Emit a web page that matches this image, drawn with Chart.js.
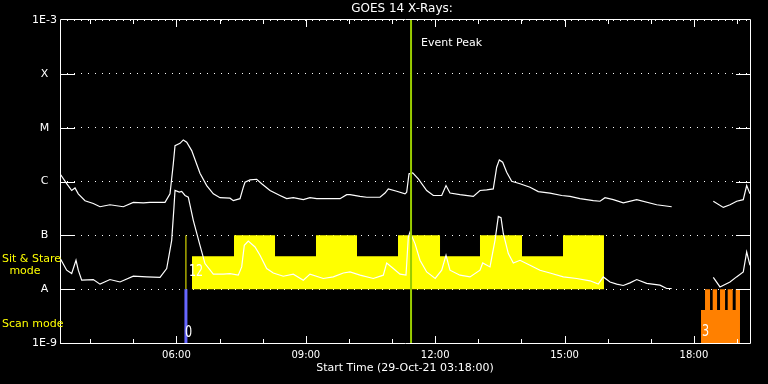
<!DOCTYPE html>
<html>
<head>
<meta charset="utf-8">
<script src="https://cdn.jsdelivr.net/npm/chart.js@4.4.0/dist/chart.umd.min.js"></script>
<style>
  html, body { margin: 0; padding: 0; background: #000; overflow: hidden; }
  #wrap { width: 768px; height: 384px; }
</style>
</head>
<body>
<div id="wrap"><canvas id="goesChart"></canvas></div>
<script>
// time axis in decimal hours of 29-Oct-21, flux in W/m^2
const startHour = 3.3;
const endHour = 19.3;
const xTickHours = [6, 9, 12, 15, 18];
const minorHours = [4, 5, 6, 7, 8, 9, 10, 11, 12, 13, 14, 15, 16, 17, 18, 19];

const yTickValues = [1e-9, 1e-8, 1e-7, 1e-6, 1e-5, 1e-4, 1e-3];
const yTickLabels = ['1E-9', 'A', 'B', 'C', 'M', 'X', '1E-3'];

// 1-8 A channel (upper curve)
const longTime = [3.30, 3.455, 3.571, 3.648, 3.724, 3.880, 4.072, 4.228, 4.459, 4.768,
  5.000, 5.232, 5.387, 5.735, 5.851, 5.927, 5.967, 6.083, 6.159, 6.238,
  6.354, 6.546, 6.702, 6.855, 7.010, 7.242, 7.319, 7.474, 7.550, 7.590,
  7.706, 7.861, 7.977, 8.170, 8.401, 8.557, 8.710, 8.942, 9.097, 9.253,
  9.793, 9.948, 10.025, 10.257, 10.412, 10.720, 10.836, 10.913, 11.108, 11.300,
  11.339, 11.393, 11.479, 11.609, 11.803, 11.957, 12.151, 12.251, 12.343, 12.575,
  12.884, 13.039, 13.194, 13.347, 13.426, 13.487, 13.565, 13.658, 13.774, 13.967,
  14.199, 14.391, 14.662, 14.934, 15.126, 15.358, 15.667, 15.822, 15.938, 16.130,
  16.362, 16.673, 17.136, 17.484, 17.9, 18.449, 18.681, 18.836, 18.991, 19.144,
  19.223, 19.30];
const longFlux = [1.39e-6, 9.1e-7, 6.8e-7, 7.6e-7, 5.9e-7, 4.4e-7, 3.9e-7, 3.4e-7, 3.7e-7, 3.4e-7,
  4.1e-7, 4.0e-7, 4.1e-7, 4.1e-7, 5.9e-7, 2.13e-6, 4.64e-6, 5.12e-6, 5.92e-6, 5.35e-6,
  3.75e-6, 1.42e-6, 8.4e-7, 5.9e-7, 5.0e-7, 4.9e-7, 4.4e-7, 4.8e-7, 7.8e-7, 9.7e-7,
  1.07e-6, 1.10e-6, 9.1e-7, 6.8e-7, 5.5e-7, 4.8e-7, 5.0e-7, 4.6e-7, 5.0e-7, 4.8e-7,
  4.8e-7, 5.7e-7, 5.7e-7, 5.3e-7, 5.1e-7, 5.1e-7, 6.1e-7, 7.3e-7, 6.6e-7, 5.9e-7,
  6.3e-7, 1.39e-6, 1.45e-6, 1.12e-6, 6.8e-7, 5.5e-7, 5.5e-7, 8.4e-7, 6.1e-7, 5.7e-7,
  5.3e-7, 6.8e-7, 7.0e-7, 7.3e-7, 1.84e-6, 2.52e-6, 2.28e-6, 1.49e-6, 1.01e-6, 9.1e-7,
  7.8e-7, 6.5e-7, 6.1e-7, 5.5e-7, 5.3e-7, 4.8e-7, 4.4e-7, 4.3e-7, 5.0e-7, 4.6e-7,
  4.0e-7, 4.6e-7, 3.7e-7, 3.4e-7, null, 4.3e-7, 3.3e-7, 3.7e-7, 4.3e-7, 4.6e-7,
  8.4e-7, 5.9e-7];

// 0.5-4 A channel (lower curve)
const shortTime = [3.30, 3.455, 3.571, 3.671, 3.724, 3.803, 4.072, 4.228, 4.459, 4.691,
  5.000, 5.310, 5.619, 5.774, 5.890, 5.943, 5.967, 6.066, 6.122, 6.199,
  6.275, 6.391, 6.546, 6.662, 6.855, 7.087, 7.242, 7.434, 7.513, 7.574,
  7.666, 7.822, 7.938, 8.093, 8.246, 8.478, 8.710, 8.942, 9.097, 9.406,
  9.638, 9.870, 10.025, 10.257, 10.565, 10.797, 10.876, 11.029, 11.184, 11.323,
  11.377, 11.416, 11.532, 11.648, 11.803, 12.0, 12.151, 12.251, 12.343, 12.575,
  12.807, 13.039, 13.102, 13.271, 13.387, 13.464, 13.526, 13.580, 13.696, 13.812,
  13.967, 14.199, 14.430, 14.662, 14.971, 15.281, 15.590, 15.782, 15.898, 16.054,
  16.209, 16.362, 16.517, 16.673, 16.904, 17.212, 17.368, 17.484, 17.9, 18.449,
  18.604, 18.836, 18.988, 19.144, 19.223, 19.30];
const shortFlux = [3.8e-8, 2.25e-8, 1.95e-8, 3.44e-8, 2.25e-8, 1.47e-8, 1.51e-8, 1.24e-8, 1.51e-8, 1.36e-8,
  1.74e-8, 1.69e-8, 1.65e-8, 2.42e-8, 8.07e-8, 3.34e-7, 6.81e-7, 6.34e-7, 6.53e-7, 5.51e-7,
  5.12e-7, 1.90e-7, 6.53e-8, 2.99e-8, 1.90e-8, 1.90e-8, 1.95e-8, 1.82e-8, 2.59e-8, 6.53e-8,
  7.84e-8, 6.07e-8, 4.26e-8, 2.42e-8, 2.00e-8, 1.74e-8, 1.90e-8, 1.47e-8, 1.90e-8, 1.58e-8,
  1.69e-8, 2.00e-8, 2.09e-8, 1.82e-8, 1.58e-8, 1.82e-8, 3.07e-8, 2.42e-8, 1.90e-8, 1.82e-8,
  9.3e-8, 1.15e-7, 7.02e-8, 3.44e-8, 2.09e-8, 1.58e-8, 2.25e-8, 4.26e-8, 2.25e-8, 1.82e-8,
  1.69e-8, 2.25e-8, 3.07e-8, 2.59e-8, 8.07e-8, 2.25e-7, 2.13e-7, 1.07e-7, 4.58e-8, 3.07e-8,
  3.44e-8, 2.78e-8, 2.25e-8, 2.00e-8, 1.69e-8, 1.58e-8, 1.43e-8, 1.24e-8, 1.69e-8, 1.36e-8,
  1.24e-8, 1.17e-8, 1.31e-8, 1.51e-8, 1.28e-8, 1.19e-8, 1.03e-8, 1.03e-8, null, 1.65e-8,
  1.10e-8, 1.36e-8, 1.69e-8, 2.09e-8, 4.91e-8, 2.78e-8];

// sit & stare mode blocks (level holds until next edge)
const sitEdges = [6.361, 7.335, 8.286, 9.236, 10.187, 11.138, 12.112, 13.039, 14.013, 14.964, 15.914];
const sitLevels = [4.1e-8, 1e-7, 4.1e-8, 1e-7, 4.1e-8, 1e-7, 4.1e-8, 1e-7, 4.1e-8, 1e-7, 1e-8];

// scan mode blocks
const scanEdges = [18.164, 18.257, 18.373, 18.435, 18.536, 18.605, 18.722, 18.783, 18.899, 18.968, 19.068];
const scanLevels = [4.1e-9, 1e-8, 4.1e-9, 1e-8, 4.1e-9, 1e-8, 4.1e-9, 1e-8, 4.1e-9, 1e-8, 1e-9];

const markerHour = 6.22;
const peakHour = 11.44;

const FONT = '"DejaVu Sans"';

function pts(t, v) {
    return t.map((h, i) => ({ x: h, y: v[i] }));
}

function narrowText(ctx, text, px, py, size, sx) {
    ctx.save();
    ctx.translate(px, py);
    ctx.scale(sx, 1);
    ctx.font = size + 'px ' + FONT;
    ctx.fillText(text, 0, 0);
    ctx.restore();
}

const goesDecor = {
    id: 'goesDecor',
    afterDraw(chart) {
        const ctx = chart.ctx;
        const a = chart.chartArea;
        const x = chart.scales.x;
        const y = chart.scales.y;
        const L = Math.round(a.left), R = Math.round(a.right);
        const T = Math.round(a.top), B = Math.round(a.bottom);
        ctx.save();
        ctx.strokeStyle = '#fff';
        ctx.lineWidth = 1;
        ctx.beginPath();
        // frame
        ctx.rect(L + 0.5, T - 0.5, R - L, B - T + 1);
        // solid stubs at flare levels
        for (let i = 1; i < yTickValues.length - 1; i++) {
            let py = Math.round(y.getPixelForValue(yTickValues[i])) + 0.5;
            ctx.moveTo(L, py); ctx.lineTo(L + 15, py);
            ctx.moveTo(R - 14, py); ctx.lineTo(R, py);
        }
        // hourly ticks, inward
        minorHours.forEach(h => {
            let px = Math.round(x.getPixelForValue(h)) + 0.5;
            let len = (h % 3 === 0) ? 7 : 4;
            ctx.moveTo(px, B); ctx.lineTo(px, B - len);
            ctx.moveTo(px, T); ctx.lineTo(px, T + len);
        });
        ctx.stroke();

        ctx.fillStyle = '#fff';
        ctx.textBaseline = 'middle';
        ctx.textAlign = 'center';
        ctx.font = '12px ' + FONT;
        ctx.fillText('GOES 14 X-Rays:', (L + R) / 2 - 3, 9);
        ctx.font = '11px ' + FONT;
        ctx.fillText('Start Time (29-Oct-21 03:18:00)', (L + R) / 2, 368);

        ctx.textAlign = 'left';
        ctx.fillText('Event Peak', x.getPixelForValue(peakHour) + 10, T + 23);

        ctx.fillStyle = '#ffff00';
        ctx.fillText('Sit & Stare', 2, 259);
        ctx.textAlign = 'center';
        ctx.fillText('mode', 25, 271);
        ctx.textAlign = 'left';
        ctx.fillText('Scan mode', 2, 324);

        ctx.fillStyle = '#fff';
        let mx = x.getPixelForValue(markerHour);
        let aPx = y.getPixelForValue(1e-8);
        narrowText(ctx, '12', mx + 3, aPx - 17, 16, 0.7);
        narrowText(ctx, '0', mx - 1, B - 10, 16, 0.7);
        narrowText(ctx, '3', x.getPixelForValue(scanEdges[0]) + 1, B - 11, 16, 0.7);
        ctx.restore();
    }
};

Chart.defaults.color = '#fff';
Chart.defaults.font.family = FONT;

new Chart(document.getElementById('goesChart'), {
    type: 'line',
    data: {
        datasets: [
            {
                data: [{ x: peakHour, y: 1e-9 }, { x: peakHour, y: 1e-3 }],
                borderColor: '#99cc00', borderWidth: 2, order: 0
            },
            {
                data: [{ x: markerHour, y: 1e-8 }, { x: markerHour, y: 1e-7 }],
                borderColor: '#ffff00', borderWidth: 1, order: 1
            },
            {
                data: [{ x: markerHour, y: 1e-9 }, { x: markerHour, y: 1e-8 }],
                borderColor: '#6666ff', borderWidth: 3, order: 1
            },
            {
                data: pts(longTime, longFlux),
                borderColor: '#ffffff', borderWidth: 1.2, order: 2
            },
            {
                data: pts(shortTime, shortFlux),
                borderColor: '#ffffff', borderWidth: 1.2, order: 2
            },
            {
                data: pts(sitEdges, sitLevels),
                stepped: 'before', borderWidth: 0, borderColor: '#ffff00',
                backgroundColor: '#ffff00', fill: { value: 1e-8 }, order: 3
            },
            {
                data: pts(scanEdges, scanLevels),
                stepped: 'before', borderWidth: 0, borderColor: '#ff8000',
                backgroundColor: '#ff8000', fill: { value: 1e-9 }, order: 3
            }
        ]
    },
    options: {
        responsive: true,
        maintainAspectRatio: false,
        animation: false,
        spanGaps: false,
        layout: { padding: { top: 20, right: 18, left: 0, bottom: 0 } },
        elements: { point: { radius: 0 }, line: { tension: 0 } },
        plugins: {
            legend: { display: false },
            tooltip: { enabled: false },
            title: { display: false }
        },
        scales: {
            x: {
                type: 'linear',
                min: startHour,
                max: endHour,
                grid: { display: false, drawTicks: false },
                border: { display: false },
                afterFit: (s) => { s.height = 41; },
                afterBuildTicks: (s) => { s.ticks = xTickHours.map(v => ({ value: v })); },
                ticks: {
                    autoSkip: false,
                    maxRotation: 0,
                    padding: 6,
                    font: { size: 10 },
                    callback: (v) => String(v).padStart(2, '0') + ':00'
                }
            },
            y: {
                type: 'logarithmic',
                min: 1e-9,
                max: 1e-3,
                grid: { color: '#ffffff', lineWidth: 1, drawTicks: false },
                border: { display: false, dash: [1, 6] },
                afterFit: (s) => { s.width = 60; },
                afterBuildTicks: (s) => { s.ticks = yTickValues.map(v => ({ value: v })); },
                ticks: {
                    autoSkip: false,
                    padding: 3,
                    crossAlign: 'center',
                    font: { size: 11 },
                    callback: (v, i) => yTickLabels[i]
                }
            }
        }
    },
    plugins: [goesDecor]
});
</script>
</body>
</html>
